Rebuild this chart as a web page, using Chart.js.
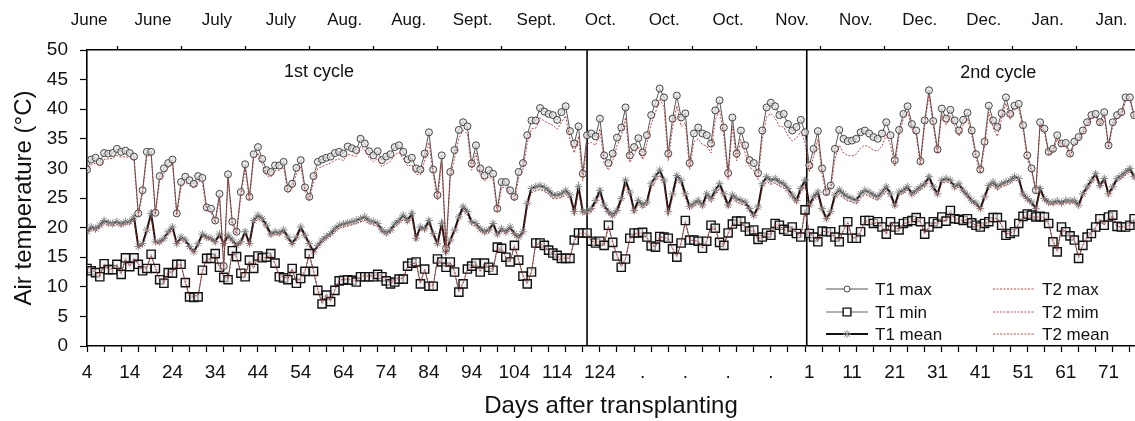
<!DOCTYPE html>
<html>
<head>
<meta charset="utf-8">
<script src="https://cdn.jsdelivr.net/npm/chart.js@4.4.0/dist/chart.umd.min.js"></script>
<style>
  body { margin: 0; background: #fff; }
  #wrap { width: 1135px; height: 421px; }
</style>
</head>
<body>
<div id="wrap"><canvas id="tempChart" width="1135" height="421"></canvas></div>
<script>
// days run on one continuous count: 4..124 first cycle, then the gap, then 2nd cycle (day 1 = 173)
const firstDay = 4;

// T1 max (°C), one value per day, 10 per row starting at day 4
const t1Max = [
  29.8, 31.5, 31.8, 31.1, 32.6, 32.5, 32.6, 33.3, 32.8, 33.0,
  32.6, 32.0, 22.4, 26.3, 32.8, 32.8, 22.5, 28.7, 30.0, 30.9,
  31.5, 22.4, 27.7, 28.6, 28.0, 27.4, 28.7, 28.4, 23.4, 23.2,
  21.2, 25.7, 13.5, 29.0, 21.0, 19.3, 26.0, 30.7, 25.2, 32.4,
  33.6, 31.6, 29.7, 29.4, 30.5, 30.5, 31.1, 26.6, 27.4, 30.1,
  31.4, 26.8, 25.2, 28.7, 31.1, 31.5, 31.8, 32.0, 32.6, 32.8,
  32.5, 33.7, 33.4, 33.1, 35.0, 34.2, 32.9, 32.2, 32.9, 31.4,
  32.0, 32.4, 33.6, 33.9, 32.8, 31.5, 31.8, 30.0, 29.8, 32.5,
  36.1, 29.8, 25.5, 32.2, 16.5, 29.4, 33.1, 36.5, 37.8, 37.1,
  30.8, 33.9, 30.0, 28.8, 29.7, 29.1, 23.2, 27.7, 27.7, 26.3,
  25.2, 29.4, 30.9, 35.6, 38.1, 38.1, 40.2, 39.6, 39.2, 39.0,
  38.2, 39.5, 40.5, 36.3, 34.2, 37.1, 29.1, 35.6, 35.9, 35.4,
  38.4, 32.2, 30.9, 32.5, 35.2, 36.9, 40.3, 32.2, 33.6, 35.1,
  32.7, 35.6, 39.0, 41.0, 43.5, 42.0, 32.5, 38.4, 42.3, 38.6,
  39.3, 30.9, 35.9, 36.9, 35.9, 35.6, 34.2, 39.8, 41.5, 36.9,
  29.2, 38.6, 32.5, 36.4, 33.9, 31.4, 30.9, 29.2, 36.4, 40.3,
  41.1, 40.5, 39.0, 39.2, 37.5, 36.4, 37.0, 38.2, 36.1, 30.5,
  33.3, 36.3, 30.0, 26.0, 27.1, 33.3, 36.5, 35.0, 34.6, 34.7,
  35.0, 36.1, 36.4, 35.9, 35.3, 35.0, 35.9, 37.8, 35.6, 31.4,
  36.5, 39.2, 40.5, 37.5, 36.4, 31.2, 38.1, 43.2, 38.0, 33.2,
  40.1, 38.4, 39.9, 38.1, 36.4, 38.2, 39.4, 36.4, 32.4, 29.8,
  34.5, 40.6, 38.1, 37.0, 39.3, 42.0, 39.2, 40.6, 40.9, 37.3,
  32.2, 30.0, 26.3, 37.8, 36.7, 32.8, 33.3, 35.6, 34.2, 34.3,
  32.5, 34.5, 35.3, 36.4, 37.8, 39.0, 39.2, 37.8, 39.5, 33.9,
  37.8, 39.0, 39.5, 42.0, 42.0, 39.0
];

const t1Min = [
  13.1, 12.7, 12.4, 11.7, 13.9, 12.9, 12.9, 13.8, 12.1, 14.9,
  13.4, 14.9, 13.8, 12.7, 13.1, 15.5, 13.1, 11.2, 10.6, 12.4,
  12.3, 13.8, 13.8, 10.7, 8.3, 8.2, 8.3, 12.8, 14.8, 14.8,
  15.6, 13.3, 11.6, 11.2, 16.1, 15.1, 12.3, 11.7, 14.5, 13.1,
  15.2, 14.9, 15.0, 15.6, 14.0, 11.7, 11.5, 11.2, 13.1, 10.6,
  11.4, 12.6, 15.6, 12.6, 9.4, 7.1, 8.6, 7.5, 9.4, 11.0,
  11.1, 11.2, 11.1, 10.8, 11.7, 11.7, 11.7, 11.7, 12.1, 11.7,
  11.0, 10.5, 10.8, 11.3, 11.3, 13.5, 14.0, 14.2, 10.5, 13.0,
  10.1, 10.1, 14.7, 14.2, 13.3, 14.2, 12.5, 9.1, 10.5, 13.0,
  13.5, 14.0, 12.5, 14.0, 13.3, 12.8, 16.7, 16.5, 15.0, 14.2,
  17.0, 14.5, 11.8, 10.5, 12.5, 17.4, 17.4, 17.0, 16.2, 15.7,
  15.3, 14.8, 14.8, 14.8, 17.9, 19.1, 19.1, 19.1, 17.7, 17.4,
  17.7, 17.0, 20.4, 17.5, 15.2, 13.3, 14.7, 18.2, 19.1, 19.1,
  19.2, 18.4, 16.9, 16.7, 18.5, 18.4, 18.2, 16.4, 15.0, 17.4,
  21.2, 17.9, 17.9, 17.7, 16.5, 17.7, 20.4, 19.9, 17.5, 17.0,
  19.1, 20.6, 21.1, 21.1, 20.1, 19.4, 19.6, 18.0, 18.4, 19.1,
  18.7, 20.7, 20.4, 19.7, 19.4, 20.1, 19.0, 18.4, 23.0, 19.0,
  18.4, 17.6, 19.4, 19.3, 19.3, 18.4, 17.6, 19.6, 21.0, 18.2,
  18.2, 19.3, 21.2, 21.2, 20.7, 21.0, 20.1, 18.9, 21.0, 20.1,
  19.6, 20.7, 21.0, 21.2, 21.7, 21.0, 18.9, 20.1, 21.0, 20.7,
  21.8, 21.1, 22.9, 21.5, 21.4, 21.2, 21.5, 20.8, 20.4, 20.1,
  20.7, 21.0, 21.7, 21.7, 20.4, 18.7, 19.0, 19.3, 20.7, 21.9,
  22.3, 22.1, 21.8, 21.9, 21.8, 20.7, 17.6, 15.9, 20.1, 19.3,
  18.6, 17.9, 14.8, 17.0, 18.4, 19.0, 20.1, 21.5, 20.4, 21.8,
  22.1, 20.2, 20.1, 20.1, 20.4, 21.5
];

const t1Mean = [
  19.3, 20.1, 19.8, 20.4, 21.2, 20.8, 20.7, 21.0, 20.6, 21.0,
  21.0, 21.8, 16.8, 17.3, 19.6, 22.4, 17.6, 17.6, 18.2, 19.3,
  20.1, 17.3, 18.4, 17.9, 16.8, 15.9, 17.3, 18.9, 18.4, 18.2,
  17.6, 18.9, 17.3, 18.7, 17.9, 17.0, 17.6, 19.3, 17.3, 21.2,
  22.1, 21.5, 20.4, 18.9, 19.3, 19.1, 19.6, 18.4, 17.3, 18.4,
  20.1, 18.7, 17.3, 15.9, 17.0, 17.9, 18.5, 19.0, 19.8, 20.4,
  20.6, 20.8, 21.0, 21.2, 21.5, 21.8, 21.2, 21.0, 20.7, 19.6,
  19.1, 19.6, 20.6, 21.2, 22.1, 21.2, 22.4, 18.2, 20.1, 19.8,
  21.2, 19.0, 17.3, 20.7, 15.9, 17.9, 19.6, 21.8, 23.5, 22.7,
  21.0, 20.7, 19.8, 19.3, 19.6, 20.7, 18.9, 19.8, 19.3, 20.1,
  19.0, 18.4, 19.3, 24.1, 26.6, 26.9, 27.1, 26.8, 26.3, 25.5,
  25.5, 25.7, 26.3, 25.5, 22.7, 26.9, 22.7, 22.7, 23.2, 24.6,
  26.3, 23.8, 22.7, 22.1, 22.9, 24.9, 28.0, 26.0, 22.9, 24.6,
  23.8, 24.3, 27.4, 28.6, 29.7, 28.0, 22.7, 25.7, 28.8, 28.0,
  25.7, 23.6, 24.1, 24.6, 23.8, 25.7, 24.9, 26.3, 27.4, 25.7,
  23.8, 25.5, 24.9, 24.6, 24.3, 23.2, 22.1, 23.5, 27.4, 28.6,
  28.0, 28.3, 27.7, 27.4, 26.6, 25.5, 24.6, 26.6, 28.0, 23.8,
  25.2, 26.0, 23.2, 21.5, 22.7, 25.5, 26.4, 25.7, 25.2, 24.9,
  24.6, 25.7, 26.3, 26.0, 25.5, 25.2, 26.0, 26.9, 25.7, 23.8,
  26.0, 26.3, 26.9, 25.7, 26.3, 26.9, 27.4, 28.6, 26.9, 25.7,
  28.0, 28.3, 28.0, 26.9, 27.4, 26.3, 25.5, 24.6, 24.1, 23.2,
  25.2, 27.1, 27.7, 26.9, 27.4, 27.7, 28.0, 28.6, 28.3, 25.7,
  24.9, 24.3, 23.2, 26.6, 24.9, 24.3, 24.2, 24.5, 24.2, 24.6,
  24.5, 24.6, 23.8, 25.7, 26.9, 28.0, 29.1, 27.1, 28.3, 25.7,
  26.9, 28.3, 28.8, 29.4, 30.0, 28.6
];

const t2Max = [
  29.5, 30.6, 30.9, 30.4, 31.5, 31.6, 31.7, 32.2, 31.9, 32.0,
  31.8, 31.3, 22.0, 25.8, 32.1, 32.3, 22.2, 28.0, 29.2, 30.1,
  30.8, 22.1, 26.8, 27.7, 27.1, 26.7, 27.9, 27.6, 22.9, 22.6,
  20.8, 25.0, 13.0, 28.1, 20.5, 18.9, 25.3, 29.9, 24.6, 31.6,
  32.6, 30.7, 28.8, 28.5, 29.6, 29.7, 30.2, 25.9, 26.6, 29.2,
  30.4, 26.1, 24.6, 27.8, 30.0, 30.3, 30.6, 30.9, 31.4, 31.6,
  31.3, 32.4, 32.2, 32.0, 33.7, 33.1, 31.8, 31.1, 31.7, 30.3,
  30.8, 31.2, 32.3, 32.7, 31.7, 30.4, 30.6, 29.0, 28.9, 31.2,
  34.4, 28.9, 24.7, 31.0, 15.8, 28.4, 31.8, 35.1, 36.4, 35.9,
  29.7, 32.6, 29.0, 27.8, 28.6, 28.1, 22.6, 26.8, 26.8, 25.5,
  24.5, 28.4, 29.8, 34.3, 36.7, 36.8, 38.5, 38.0, 37.6, 37.3,
  36.6, 37.8, 38.9, 34.9, 32.6, 35.4, 27.9, 34.1, 34.4, 33.9,
  36.7, 30.9, 29.7, 31.2, 33.8, 35.4, 38.6, 31.0, 32.3, 33.7,
  31.5, 34.2, 37.5, 39.4, 41.8, 40.4, 31.3, 36.9, 40.6, 37.1,
  37.7, 29.8, 34.5, 35.0, 34.0, 33.8, 32.6, 38.2, 39.9, 35.4,
  28.1, 37.1, 31.3, 34.9, 32.6, 30.2, 29.7, 28.1, 35.0, 38.7,
  39.3, 38.5, 37.1, 37.0, 35.5, 34.6, 35.1, 36.2, 34.4, 29.4,
  32.0, 34.9, 29.0, 25.4, 26.4, 31.6, 33.9, 32.6, 32.2, 32.1,
  32.4, 33.4, 33.9, 33.6, 33.1, 32.9, 33.8, 35.7, 34.0, 30.3,
  35.6, 38.4, 39.6, 36.8, 35.6, 30.6, 37.4, 42.3, 37.2, 32.5,
  39.2, 37.3, 38.9, 37.2, 35.4, 37.3, 38.5, 35.6, 31.8, 29.2,
  33.7, 39.5, 36.9, 35.4, 38.4, 41.0, 38.3, 39.9, 40.2, 36.6,
  31.6, 29.5, 25.9, 37.3, 36.1, 32.3, 32.8, 35.0, 33.7, 33.8,
  32.0, 34.0, 34.8, 35.9, 37.3, 38.5, 38.7, 37.3, 38.9, 33.5,
  37.2, 38.4, 38.9, 41.4, 41.5, 38.5
];

const t2Min = [
  13.3, 12.9, 12.5, 11.9, 13.7, 13.0, 13.1, 13.6, 12.3, 14.6,
  13.5, 14.7, 13.9, 12.9, 13.2, 15.2, 13.3, 11.4, 10.8, 12.5,
  12.5, 13.6, 13.7, 10.9, 8.5, 8.4, 8.6, 12.6, 14.6, 14.7,
  15.3, 13.4, 11.8, 11.4, 15.8, 15.0, 12.5, 11.9, 14.3, 13.2,
  15.0, 14.8, 14.9, 15.3, 13.9, 11.9, 11.7, 11.4, 13.0, 10.8,
  11.5, 12.7, 15.3, 12.7, 9.6, 7.4, 8.8, 7.7, 9.6, 11.1,
  11.3, 11.3, 11.2, 11.0, 11.8, 11.9, 11.8, 11.9, 12.2, 11.8,
  11.2, 10.7, 11.0, 11.4, 11.5, 13.4, 13.9, 14.0, 10.7, 12.9,
  10.3, 10.3, 14.5, 14.1, 13.4, 14.0, 12.6, 9.3, 10.7, 12.9,
  13.4, 13.8, 12.7, 13.9, 13.4, 12.9, 16.4, 16.3, 15.0, 14.3,
  16.8, 14.5, 12.0, 10.7, 12.6, 17.2, 17.2, 16.9, 16.1, 15.7,
  15.2, 14.9, 14.8, 14.9, 17.7, 18.9, 19.0, 18.9, 17.8, 17.5,
  17.6, 17.1, 20.1, 17.5, 15.4, 13.5, 14.8, 18.0, 18.9, 19.0,
  19.0, 18.3, 17.0, 16.8, 18.4, 18.3, 18.1, 16.5, 15.2, 17.4,
  20.8, 17.9, 17.8, 17.7, 16.6, 17.7, 20.2, 19.8, 17.6, 17.1,
  19.0, 20.4, 20.9, 20.9, 20.0, 19.4, 19.5, 18.1, 18.4, 19.0,
  18.8, 20.5, 20.3, 19.7, 19.5, 20.0, 19.1, 18.5, 22.6, 19.1,
  18.5, 17.8, 19.4, 19.3, 19.2, 18.5, 17.8, 19.6, 20.8, 18.3,
  18.3, 19.3, 21.0, 21.0, 20.6, 20.9, 20.1, 19.0, 20.9, 20.1,
  19.7, 20.6, 20.9, 21.0, 21.5, 20.9, 19.0, 20.1, 20.9, 20.6,
  21.6, 21.0, 22.6, 21.4, 21.3, 21.1, 21.4, 20.8, 20.4, 20.2,
  20.7, 20.9, 21.5, 21.5, 20.4, 18.9, 19.1, 19.4, 20.6, 21.7,
  22.1, 21.9, 21.7, 21.8, 21.6, 20.6, 17.8, 16.2, 19.9, 19.3,
  18.6, 18.0, 15.1, 17.1, 18.4, 19.0, 20.0, 21.3, 20.4, 21.6,
  21.9, 20.2, 20.1, 20.2, 20.4, 21.3
];

const t2Mean = [
  19.0, 19.7, 19.4, 20.0, 20.7, 20.4, 20.3, 20.5, 20.2, 20.6,
  20.6, 21.3, 16.6, 17.0, 19.2, 21.9, 17.4, 17.3, 17.8, 18.9,
  19.6, 17.1, 18.0, 17.5, 16.5, 15.7, 17.0, 18.5, 18.1, 17.9,
  17.3, 18.5, 17.0, 18.3, 17.6, 16.8, 17.3, 18.9, 17.0, 20.7,
  21.5, 21.0, 19.9, 18.5, 18.9, 18.7, 19.2, 18.1, 17.0, 18.0,
  19.6, 18.3, 17.0, 15.7, 16.7, 17.5, 18.1, 18.6, 19.3, 19.9,
  20.1, 20.3, 20.5, 20.7, 21.0, 21.2, 20.7, 20.5, 20.2, 19.2,
  18.7, 19.2, 20.1, 20.7, 21.5, 20.7, 21.8, 17.9, 19.7, 19.4,
  20.6, 18.6, 17.0, 20.2, 15.7, 17.5, 19.2, 21.2, 22.9, 22.1,
  20.5, 20.2, 19.4, 18.9, 19.2, 20.2, 18.6, 19.4, 18.9, 19.7,
  18.7, 18.1, 18.9, 23.5, 25.9, 26.2, 26.4, 26.1, 25.7, 24.9,
  24.9, 25.1, 25.6, 24.9, 22.3, 26.2, 22.3, 22.3, 22.7, 24.0,
  25.6, 23.3, 22.3, 21.7, 22.4, 24.3, 27.2, 25.4, 22.5, 24.0,
  23.3, 23.8, 26.7, 27.8, 28.9, 27.3, 22.3, 25.1, 28.0, 27.3,
  25.1, 23.1, 23.6, 24.0, 23.3, 25.1, 24.3, 25.6, 26.7, 25.1,
  23.3, 24.9, 24.3, 24.0, 23.8, 22.8, 21.7, 23.0, 26.7, 27.8,
  27.3, 27.5, 27.0, 26.7, 25.9, 24.9, 24.0, 25.9, 27.2, 23.3,
  24.7, 25.4, 22.8, 21.2, 22.3, 24.9, 25.7, 25.0, 24.5, 24.3,
  24.0, 25.0, 25.6, 25.3, 24.9, 24.6, 25.4, 26.2, 25.1, 23.4,
  25.5, 25.8, 26.4, 25.3, 25.8, 26.4, 26.9, 28.0, 26.4, 25.3,
  27.5, 27.8, 27.5, 26.5, 26.9, 25.9, 25.1, 24.2, 23.8, 22.9,
  24.8, 26.6, 27.2, 26.4, 26.9, 27.2, 27.5, 28.1, 27.8, 25.3,
  24.5, 23.9, 22.9, 26.1, 24.5, 23.9, 23.9, 24.1, 23.9, 24.2,
  24.1, 24.2, 23.5, 25.3, 26.4, 27.5, 28.6, 26.7, 27.8, 25.3,
  26.5, 27.8, 28.3, 28.9, 29.5, 28.2
];

// bottom axis labels
const cycle1LabelDays = [4, 14, 24, 34, 44, 54, 64, 74, 84, 94, 104, 114, 124];
const gapLabelDays = [134, 144, 154, 164];
const cycle2Offset = 172;           // running day = 172 + day of 2nd cycle
const cycle2Labels = [1, 11, 21, 31, 41, 51, 61, 71];
// top axis labels (half-month steps)
const monthLabels = ['June', 'June', 'July', 'July', 'Aug.', 'Aug.', 'Sept.', 'Sept.', 'Oct.',
  'Oct.', 'Oct.', 'Nov.', 'Nov.', 'Dec.', 'Dec.', 'Jan.', 'Jan.'];
const cycleBreaks = [121, 172.4];

const FONT = '"Liberation Sans", Arial, Helvetica, sans-serif';
const xMin = 4, xMax = 249.2;
const monthStart = 4.5, monthStep = 14.95, monthTickShift = 6.7;

const toPts = arr => arr.map((v, i) => ({ x: firstDay + i, y: v }));

// bottom ticks: marks every 4 days + label positions
const bottomText = new Map();
cycle1LabelDays.forEach(d => bottomText.set(d, String(d)));
gapLabelDays.forEach(d => bottomText.set(d, '.'));
cycle2Labels.forEach(d => bottomText.set(cycle2Offset + d, String(d)));
const bottomMarks = new Set();
for (let d = 4; d <= 248; d += 4) bottomMarks.add(d);
const bottomTickVals = [...new Set([...bottomMarks, ...bottomText.keys()])].sort((a, b) => a - b);

// top ticks: labels in the middle, marks in between
const topText = new Map();
const topMarks = new Set();
monthLabels.forEach((m, k) => {
  const pos = +(monthStart + k * monthStep).toFixed(3);
  topText.set(pos, m);
  if (k < monthLabels.length - 1) topMarks.add(+(pos + monthTickShift).toFixed(3));
});
const topTickVals = [...topText.keys(), ...topMarks].sort((a, b) => a - b);

function drawMark(ctx, style, x, y, r) {
  ctx.beginPath();
  if (style === 'circle') {
    ctx.arc(x, y, r, 0, Math.PI * 2);
  } else if (style === 'rect') {
    const s = r * Math.SQRT1_2;
    ctx.rect(x - s, y - s, 2 * s, 2 * s);
  } else if (style === 'star') {
    for (let k = 0; k < 4; k++) {
      const a = k * Math.PI / 4;
      ctx.moveTo(x + Math.cos(a) * r, y + Math.sin(a) * r);
      ctx.lineTo(x - Math.cos(a) * r, y - Math.sin(a) * r);
    }
  }
}

const overlay = {
  id: 'overlay',
  beforeDatasetsDraw(chart) {
    const { ctx, chartArea: a, scales: { x } } = chart;
    ctx.save();
    ctx.strokeStyle = '#000';
    ctx.lineWidth = 1.6;
    cycleBreaks.forEach(d => {
      const px = x.getPixelForValue(d);
      ctx.beginPath();
      ctx.moveTo(px, a.top);
      ctx.lineTo(px, a.bottom);
      ctx.stroke();
    });
    ctx.restore();
  },
  afterDatasetsDraw(chart) {
    const { ctx, chartArea: a, scales: { x, y } } = chart;
    ctx.save();
    // cycle captions
    ctx.font = '18px ' + FONT;
    ctx.fillStyle = '#111';
    ctx.textAlign = 'center';
    ctx.textBaseline = 'middle';
    ctx.fillText('1st cycle', x.getPixelForValue(58.3), y.getPixelForValue(46.3));
    ctx.fillText('2nd cycle', x.getPixelForValue(217.2), y.getPixelForValue(46.1));

    // legend, two columns of three
    const rows = [a.bottom - 57, a.bottom - 34, a.bottom - 12];
    const cols = [a.left + 739, a.left + 906];
    ctx.font = '17px ' + FONT;
    ctx.textAlign = 'left';
    chart.data.datasets.forEach((ds, i) => {
      const cx = cols[Math.floor(i / 3)], cy = rows[i % 3];
      ctx.save();
      ctx.strokeStyle = ds.borderColor;
      ctx.lineWidth = ds.borderWidth;
      ctx.setLineDash(ds.borderDash || []);
      ctx.beginPath();
      ctx.moveTo(cx, cy);
      ctx.lineTo(cx + 42, cy);
      ctx.stroke();
      ctx.setLineDash([]);
      if (ds.pointRadius > 0) {
        drawMark(ctx, ds.pointStyle, cx + 21, cy, ds.legendRadius || ds.pointRadius);
        ctx.fillStyle = '#fff';
        if (ds.pointStyle !== 'star') ctx.fill();
        ctx.strokeStyle = ds.pointBorderColor;
        ctx.lineWidth = ds.pointBorderWidth;
        ctx.stroke();
      }
      ctx.restore();
      ctx.fillStyle = '#111';
      ctx.fillText(ds.label, cx + 49, cy + 1);
    });
    ctx.restore();
  }
};

const t2Color = 'rgba(176, 44, 44, 0.85)';

new Chart(document.getElementById('tempChart'), {
  type: 'line',
  data: {
    datasets: [
      {
        label: 'T1 max', data: toPts(t1Max), order: 2,
        borderColor: '#555', borderWidth: 1,
        pointStyle: 'circle', pointRadius: 3.5, legendRadius: 3,
        pointBorderColor: '#444', pointBorderWidth: 1, pointBackgroundColor: 'rgba(225,225,225,0.75)'
      },
      {
        label: 'T1 min', data: toPts(t1Min), order: 2,
        borderColor: '#666', borderWidth: 1,
        pointStyle: 'rect', pointRadius: 5.8, legendRadius: 5.5,
        pointBorderColor: '#111', pointBorderWidth: 1.4, pointBackgroundColor: 'rgba(235,235,235,0.6)'
      },
      {
        label: 'T1 mean', data: toPts(t1Mean), order: 2,
        borderColor: '#111', borderWidth: 2,
        pointStyle: 'star', pointRadius: 4, legendRadius: 4,
        pointBorderColor: '#888', pointBorderWidth: 1
      },
      {
        label: 'T2 max', data: toPts(t2Max), order: 1,
        borderColor: t2Color, borderWidth: 1, borderDash: [2, 1.5], pointRadius: 0
      },
      {
        label: 'T2 mim', data: toPts(t2Min), order: 1,
        borderColor: t2Color, borderWidth: 1, borderDash: [2, 1.5], pointRadius: 0
      },
      {
        label: 'T2 mean', data: toPts(t2Mean), order: 1,
        borderColor: t2Color, borderWidth: 1, borderDash: [2, 1.5], pointRadius: 0
      }
    ]
  },
  options: {
    responsive: false,
    animation: false,
    devicePixelRatio: 1,
    layout: { padding: 0, autoPadding: false },
    elements: { line: { tension: 0, fill: false } },
    plugins: { legend: { display: false }, tooltip: { enabled: false } },
    scales: {
      x: {
        type: 'linear', position: 'bottom', min: xMin, max: xMax,
        afterBuildTicks: s => { s.ticks = bottomTickVals.map(v => ({ value: v })); },
        afterFit: s => { s.height = 75; s.paddingLeft = 0; s.paddingRight = 0; },
        ticks: {
          autoSkip: false, maxRotation: 0, padding: 9, color: '#111',
          font: { family: FONT, size: 19 },
          callback: v => bottomText.get(v) || ''
        },
        grid: {
          drawOnChartArea: false, tickLength: 6, tickWidth: 1.2,
          tickColor: c => bottomMarks.has(c.tick && c.tick.value) ? '#000' : 'rgba(0,0,0,0)'
        },
        border: { display: true, color: '#000', width: 1.6 },
        title: {
          display: true, text: 'Days after transplanting', color: '#111',
          font: { family: FONT, size: 24 }, padding: { top: 0, bottom: 0 }
        }
      },
      xTop: {
        type: 'linear', position: 'top', axis: 'x', min: xMin, max: xMax,
        afterBuildTicks: s => { s.ticks = topTickVals.map(v => ({ value: v })); },
        afterFit: s => { s.height = 50; s.paddingLeft = 0; s.paddingRight = 0; },
        ticks: {
          autoSkip: false, maxRotation: 0, padding: 15, color: '#111',
          font: { family: FONT, size: 17 },
          callback: v => topText.get(v) || ''
        },
        grid: {
          drawOnChartArea: false, tickLength: 4, tickWidth: 1.2,
          tickColor: c => topMarks.has(c.tick && c.tick.value) ? '#000' : 'rgba(0,0,0,0)'
        },
        border: { display: true, color: '#000', width: 1.6 }
      },
      y: {
        type: 'linear', position: 'left', min: 0, max: 50,
        afterFit: s => {
          s.width = 87; s.paddingTop = 0; s.paddingBottom = 0; s.paddingLeft = 0; s.paddingRight = 0;
        },
        ticks: { stepSize: 5, padding: 12, color: '#111', font: { family: FONT, size: 19 } },
        grid: { drawOnChartArea: false, tickLength: 7, tickWidth: 1.2, tickColor: '#000' },
        border: { display: true, color: '#000', width: 1.6 },
        title: {
          display: true, text: 'Air temperature (°C)', color: '#111',
          font: { family: FONT, size: 24 }, padding: { top: 10, bottom: 0 }
        }
      }
    }
  },
  plugins: [overlay]
});
</script>
</body>
</html>
